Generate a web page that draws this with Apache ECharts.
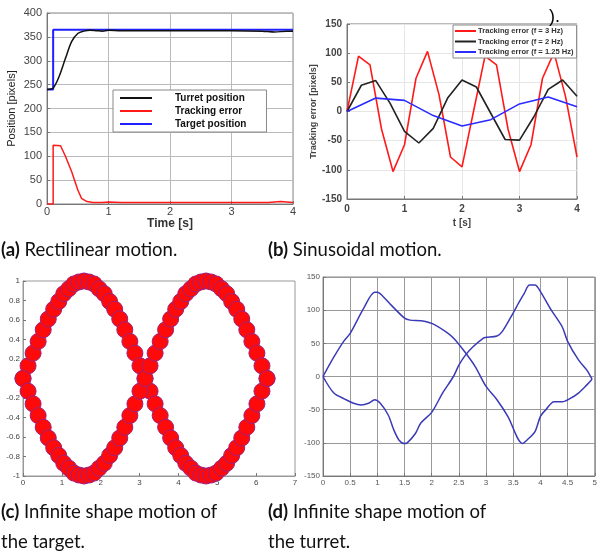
<!DOCTYPE html>
<html><head><meta charset="utf-8">
<script src="https://cdn.jsdelivr.net/npm/echarts@6/dist/echarts.min.js"></script>
<style>html,body{margin:0;padding:0;background:#fff}#c{width:600px;height:556px}</style>
</head><body><div id="c"></div>
<script>
// (a) Rectilinear motion
const turretT = [0,0.1,0.2,0.3,0.4,0.5,0.6,0.7,0.8,0.9,1.0,1.2,1.5,2,2.5,3,3.5,3.7,3.9,4];
const turretY = [240,243,268,305,340,357,362,364,363,362,364,363,363,363,363,363,362,360,362,362];
const errorT = [0,0.1,0.1,0.22,0.3,0.4,0.5,0.56,0.65,0.75,0.9,1.0,1.2,1.5,2,3,3.6,3.8,4];
const errorY = [0,0,123,122,100,68,30,12,5,3,3,4,3,3,3,3,3,5,3];
const targetT = [0,0.1,0.1,4];
const targetY = [240,240,365,365];
// (b) Sinusoidal motion
const t3 = [0,0.2,0.4,0.6,0.8,1.0,1.2,1.4,1.6,1.8,2.0,2.2,2.4,2.6,2.8,3.0,3.2,3.4,3.6,3.8,4.0];
const err3 = [0,95,80,-30,-103,-57,57,103,29,-78,-95,0,95,80,-30,-103,-57,57,101,26,-78];
const t2 = [0,0.25,0.5,0.75,1.0,1.25,1.5,1.75,2.0,2.25,2.5,2.75,3.0,3.25,3.5,3.75,4.0];
const err2 = [0,45,53,14,-34,-54,-29,23,54,42,-3,-48,-49,-9,38,54,26];
const t125 = [0,0.5,1.0,1.5,2.0,2.5,3.0,3.5,4.0];
const err125 = [0,23,19,-7,-25,-14,13,25,8];
// (c) Infinite shape motion of the target
const targetX = [0,0.13,0.26,0.39,0.52,0.65,0.79,0.92,1.05,1.18,1.31,1.44,1.57,1.70,1.83,1.96,2.09,2.23,2.36,2.49,2.62,2.75,2.88,3.01,3.14,3.27,3.40,3.53,3.67,3.80,3.93,4.06,4.19,4.32,4.45,4.58,4.71,4.84,4.97,5.11,5.24,5.37,5.50,5.63,5.76,5.89,6.02,6.15,6.28];
const targetUp = [0,0.13,0.26,0.38,0.50,0.61,0.71,0.79,0.87,0.92,0.97,0.99,1.00,0.99,0.97,0.92,0.87,0.79,0.71,0.61,0.50,0.38,0.26,0.13,0,-0.13,-0.26,-0.38,-0.50,-0.61,-0.71,-0.79,-0.87,-0.92,-0.97,-0.99,-1.00,-0.99,-0.97,-0.92,-0.87,-0.79,-0.71,-0.61,-0.50,-0.38,-0.26,-0.13,0];
const targetDown = [0,-0.13,-0.26,-0.38,-0.50,-0.61,-0.71,-0.79,-0.87,-0.92,-0.97,-0.99,-1.00,-0.99,-0.97,-0.92,-0.87,-0.79,-0.71,-0.61,-0.50,-0.38,-0.26,-0.13,0,0.13,0.26,0.38,0.50,0.61,0.71,0.79,0.87,0.92,0.97,0.99,1.00,0.99,0.97,0.92,0.87,0.79,0.71,0.61,0.50,0.38,0.26,0.13,0];
// (d) Infinite shape motion of the turret
const turret1X = [0,0.19,0.38,0.5,0.75,0.95,1.0,1.1,1.25,1.5,1.6,1.8,2.0,2.25,2.4,2.6,2.8,3.0,3.2,3.4,3.67,3.75,3.9,4.0,4.1,4.25,4.4,4.55,4.7,4.85,4.95];
const turret1Y = [0,28,53,65,103,127,127,121,108,88,85,84,80,68,58,38,15,-15,-35,-60,-101,-96,-83,-60,-50,-38,-38,-33,-25,-13,-4];
const turret2X = [0,0.2,0.4,0.55,0.7,0.85,0.95,1.05,1.2,1.3,1.4,1.5,1.55,1.7,1.8,2.0,2.2,2.4,2.5,2.6,2.75,2.95,3.0,3.2,3.3,3.5,3.6,3.7,3.8,3.9,4.0,4.2,4.4,4.5,4.7,4.85,4.95];
const turret2Y = [0,-25,-34,-40,-43,-40,-35,-40,-58,-80,-96,-101,-100,-86,-70,-54,-25,0,17,30,44,58,59,61,68,96,111,125,138,138,128,100,75,53,25,10,-4];

const zip = (a, b) => a.map((v, i) => [v, b[i]]);
const chart = echarts.init(document.getElementById('c'), null, {renderer: 'canvas'});
const ff = 'Liberation Sans, Arial, sans-serif';
const capFont = 'Lato, sans-serif';
const capSize = 18.5;

function valAxis(idx, min, max, interval, o) {
  return Object.assign({
    type: 'value', gridIndex: idx, min, max, interval,
    axisLine: {show: true, onZero: false, lineStyle: {color: '#777'}},
    axisTick: {show: true, inside: true, length: 3, lineStyle: {color: '#777'}},
    axisLabel: {color: '#444', fontFamily: ff, fontSize: 11, margin: 5},
    splitLine: {show: true, lineStyle: {color: '#bbb', width: 1}}
  }, o || {});
}

const option = {
  animation: false,
  backgroundColor: '#fff',
  grid: [
    {left: 47, top: 13, width: 246, height: 191, show: true, borderColor: '#888', borderWidth: 1},
    {left: 347, top: 24, width: 230, height: 175, show: true, borderColor: '#777', borderWidth: 1},
    {left: 23, top: 281, width: 272, height: 195, show: true, borderColor: '#999', borderWidth: 1},
    {left: 323, top: 277, width: 275, height: 199, show: true, borderColor: '#888', borderWidth: 1}
  ],
  xAxis: [
    valAxis(0, 0, 4, 1, {name: 'Time [s]', nameLocation: 'middle', nameGap: 10,
      nameTextStyle: {fontFamily: ff, fontSize: 12, fontWeight: 'bold', color: '#333'},
      axisLabel: {color: '#444', fontFamily: ff, fontSize: 11, margin: 2}}),
    valAxis(1, 0, 4, 1, {name: 't [s]', nameLocation: 'middle', nameGap: 19,
      nameTextStyle: {fontFamily: ff, fontSize: 10, fontWeight: 'bold', color: '#444'},
      axisLabel: {color: '#444', fontFamily: ff, fontSize: 10, fontWeight: 'bold', margin: 5},
      splitLine: {show: true, lineStyle: {color: '#e6e6e6'}}}),
    valAxis(2, 0, 7, 1, {splitLine: {show: false},
      axisLabel: {color: '#444', fontFamily: ff, fontSize: 8, margin: 3}, axisLine: {show: true, onZero: false, lineStyle: {color: '#999'}}}),
    valAxis(3, 0, 5, 0.5, {
      axisLabel: {color: '#555', fontFamily: ff, fontSize: 8, margin: 3},
      splitLine: {show: true, lineStyle: {color: '#999'}}})
  ],
  yAxis: [
    valAxis(0, 0, 400, 50, {name: 'Position [pixels]', nameLocation: 'middle', nameGap: 30,
      nameTextStyle: {fontFamily: ff, fontSize: 11, color: '#222'}}),
    valAxis(1, -150, 150, 50, {name: 'Tracking error [pixels]', nameLocation: 'middle', nameGap: 24,
      nameTextStyle: {fontFamily: ff, fontSize: 9, fontWeight: 'bold', color: '#444'},
      axisLabel: {color: '#444', fontFamily: ff, fontSize: 10, fontWeight: 'bold', margin: 5},
      splitLine: {show: true, lineStyle: {color: '#e6e6e6'}}}),
    valAxis(2, -1, 1, 0.2, {splitLine: {show: false},
      axisLabel: {color: '#444', fontFamily: ff, fontSize: 8, margin: 3,
        formatter: v => String(Math.round(v * 10) / 10)}, axisLine: {show: true, onZero: false, lineStyle: {color: '#999'}}}),
    valAxis(3, -150, 150, 50, {
      axisLabel: {color: '#555', fontFamily: ff, fontSize: 8, margin: 3},
      splitLine: {show: true, lineStyle: {color: '#999'}}})
  ],
  legend: [
    {orient: 'vertical', left: 113, top: 90, width: 165, data: ['Turret position', 'Tracking error', 'Target position'],
      backgroundColor: '#fff', borderColor: '#888', borderWidth: 1, padding: [3, 20, 3, 7], itemGap: 3,
      itemWidth: 32, itemHeight: 2, icon: 'rect',
      textStyle: {fontFamily: ff, fontSize: 10, fontWeight: 'bold', color: '#111', padding: [0, 0, 0, 18]}},
    {orient: 'vertical', left: 453, top: 25, data: ['Tracking error (f = 3 Hz)', 'Tracking error (f = 2 Hz)', 'Tracking error (f = 1.25 Hz)'],
      backgroundColor: '#fff', borderColor: '#888', borderWidth: 1, padding: [2, 3, 2, 2], itemGap: 2.5,
      itemWidth: 21, itemHeight: 2, icon: 'rect',
      textStyle: {fontFamily: ff, fontSize: 7.6, fontWeight: 'bold', color: '#333', padding: [0, 0, 0, -3]}}
  ],
  series: [
    {name: 'Target position', type: 'line', xAxisIndex: 0, yAxisIndex: 0, data: zip(targetT, targetY),
      showSymbol: false, lineStyle: {color: '#1f1fff', width: 2}, itemStyle: {color: '#1f1fff'}},
    {name: 'Turret position', type: 'line', xAxisIndex: 0, yAxisIndex: 0, data: zip(turretT, turretY), smooth: 0.3,
      showSymbol: false, lineStyle: {color: '#111', width: 1.5}, itemStyle: {color: '#111'}},
    {name: 'Tracking error', type: 'line', xAxisIndex: 0, yAxisIndex: 0, data: zip(errorT, errorY),
      showSymbol: false, lineStyle: {color: '#ff1a1a', width: 1.5}, itemStyle: {color: '#ff1a1a'}},

    {name: 'Tracking error (f = 3 Hz)', type: 'line', xAxisIndex: 1, yAxisIndex: 1, data: zip(t3, err3),
      showSymbol: false, lineStyle: {color: '#ff1a1a', width: 1.6}, itemStyle: {color: '#ff1a1a'}},
    {name: 'Tracking error (f = 2 Hz)', type: 'line', xAxisIndex: 1, yAxisIndex: 1, data: zip(t2, err2),
      showSymbol: false, lineStyle: {color: '#222', width: 1.6}, itemStyle: {color: '#222'}},
    {name: 'Tracking error (f = 1.25 Hz)', type: 'line', xAxisIndex: 1, yAxisIndex: 1, data: zip(t125, err125),
      showSymbol: false, lineStyle: {color: '#2b2bff', width: 1.6}, itemStyle: {color: '#2b2bff'}},

    {name: 'target1', type: 'scatter', xAxisIndex: 2, yAxisIndex: 2, data: zip(targetX, targetUp), symbolSize: 16, clip: false,
      itemStyle: {color: '#ff0a0a', borderColor: '#a0207a', borderWidth: 1, opacity: 1}},
    {name: 'target2', type: 'scatter', xAxisIndex: 2, yAxisIndex: 2, data: zip(targetX, targetDown), symbolSize: 16, clip: false,
      itemStyle: {color: '#ff0a0a', borderColor: '#a0207a', borderWidth: 1, opacity: 1}},

    {name: 'turret1', type: 'line', xAxisIndex: 3, yAxisIndex: 3, data: zip(turret1X, turret1Y), smooth: 0.3,
      showSymbol: false, lineStyle: {color: '#3a3ab8', width: 1.5}},
    {name: 'turret2', type: 'line', xAxisIndex: 3, yAxisIndex: 3, data: zip(turret2X, turret2Y), smooth: 0.3,
      showSymbol: false, lineStyle: {color: '#3a3ab8', width: 1.5}}
  ],
  graphic: [
    {type: 'text', left: 549, top: 8, z: 100, style: {text: ').', font: '18px ' + ff, fill: '#000'}},
    {type: 'text', left: 1, top: 241, style: {text: '{b|(a)} Rectilinear motion.', rich: {b: {fontWeight: 'bold', fontSize: capSize, fontFamily: capFont, fill: '#111'}}, font: capSize + 'px ' + capFont, fill: '#111'}},
    {type: 'text', left: 268, top: 241, style: {text: '{b|(b)} Sinusoidal motion.', rich: {b: {fontWeight: 'bold', fontSize: capSize, fontFamily: capFont, fill: '#111'}}, font: capSize + 'px ' + capFont, fill: '#111'}},
    {type: 'text', left: 1, top: 497, style: {text: '{b|(c)} Infinite shape motion of\nthe target.', lineHeight: 30, rich: {b: {fontWeight: 'bold', fontSize: capSize, fontFamily: capFont, fill: '#111', lineHeight: 30}}, font: capSize + 'px ' + capFont, fill: '#111'}},
    {type: 'text', left: 268, top: 497, style: {text: '{b|(d)} Infinite shape motion of\nthe turret.', lineHeight: 30, rich: {b: {fontWeight: 'bold', fontSize: capSize, fontFamily: capFont, fill: '#111', lineHeight: 30}}, font: capSize + 'px ' + capFont, fill: '#111'}}
  ]
};
chart.setOption(option);
</script></body></html>
